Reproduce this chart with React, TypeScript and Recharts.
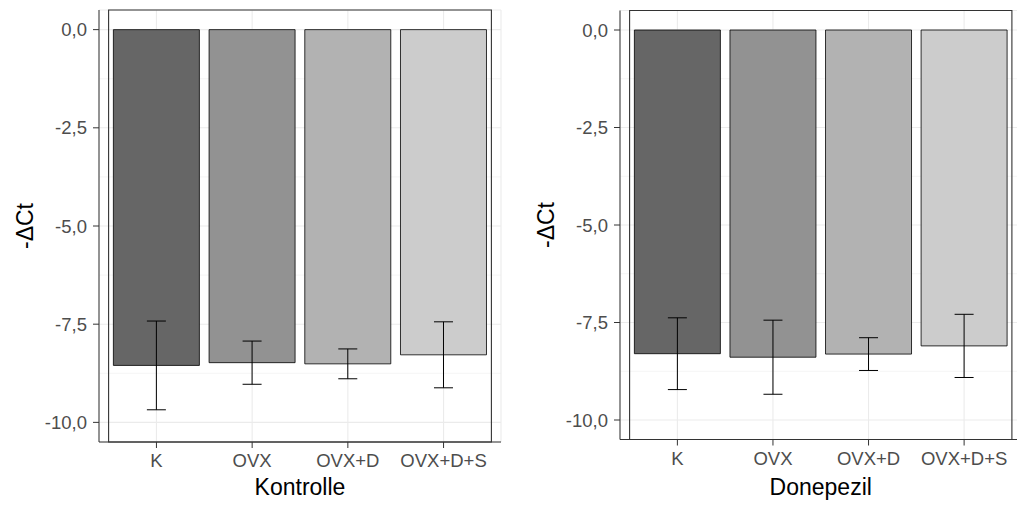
import React from 'react';
import { BarChart, Bar, XAxis, YAxis, CartesianGrid, ErrorBar, Cell, ReferenceArea } from 'recharts';

const categories = ['K', 'OVX', 'OVX+D', 'OVX+D+S'];
const kontrolleMeans = [-8.55, -8.48, -8.51, -8.28];
const kontrolleErrors = [1.13, 0.55, 0.38, 0.84];
const donepezilMeans = [-8.3, -8.39, -8.31, -8.1];
const donepezilErrors = [0.92, 0.95, 0.42, 0.81];
const yTicks = [-10, -7.5, -5, -2.5, 0];
const yMinorTicks = [-8.75, -6.25, -3.75, -1.25];
const yDomain = [-10.5, 0.5];
const fills = ['#666666', '#929292', '#B2B2B2', '#CCCCCC'];

const FONT = '"Liberation Sans", Arial, Helvetica, sans-serif';
const fmt = (v: number) => v.toFixed(1).replace('.', ',');

const minorGenerator = (gp: any) => {
  const s = gp?.yAxis?.scale;
  if (typeof s === 'function') return yMinorTicks.map((v) => s(v));
  if (s && typeof s.map === 'function') return yMinorTicks.map((v) => s.map(v));
  const o = gp?.offset;
  if (!o || typeof o.top !== 'number') return [];
  return yMinorTicks.map((v) => o.top + ((yDomain[1] - v) / (yDomain[1] - yDomain[0])) * o.height);
};

type PanelProps = {
  title: string;
  means: number[];
  errors: number[];
  width: number;
  height: number;
  margin: { top: number; right: number; bottom: number; left: number };
  yAxisWidth: number;
  xAxisHeight: number;
  yTitleX: number;
  xTitleDy: number;
};

function Panel(p: PanelProps) {
  const data = categories.map((c, i) => ({ cat: c, value: p.means[i], err: p.errors[i] }));
  return (
    <BarChart
      width={p.width}
      height={p.height}
      data={data}
      margin={p.margin}
      barCategoryGap="5%"
      style={{ fontFamily: FONT }}
    >
      <CartesianGrid
        stroke="#F2F2F2"
        strokeWidth={0.8}
        vertical={false}
        horizontalCoordinatesGenerator={minorGenerator}
      />
      <CartesianGrid stroke="#EBEBEB" strokeWidth={1.1} />
      <XAxis
        dataKey="cat"
        height={p.xAxisHeight}
        padding={{ left: 9.6, right: 9.6 }}
        stroke="#333333"
        tickSize={6}
        tickMargin={6}
        tick={{ fill: '#4D4D4D', fontSize: 18.5 }}
        tickLine={{ stroke: '#333333' }}
        interval={0}
        label={(lp: any) => {
          const vb = lp.viewBox;
          return (
            <text x={vb.x + vb.width / 2} y={vb.y + p.xTitleDy} textAnchor="middle" fontSize={23} fill="#000" fontFamily={FONT}>
              {p.title}
            </text>
          );
        }}
      />
      <YAxis
        width={p.yAxisWidth}
        domain={yDomain}
        ticks={yTicks}
        allowDataOverflow
        stroke="#333333"
        tickSize={6}
        tickMargin={6}
        tick={{ fill: '#4D4D4D', fontSize: 18.5 }}
        tickFormatter={fmt}
        label={(lp: any) => {
          const vb = lp.viewBox;
          const cx = vb.x + p.yTitleX;
          const cy = vb.y + vb.height / 2;
          return (
            <text x={cx} y={cy} transform={`rotate(-90, ${cx}, ${cy})`} textAnchor="middle" fontSize={23} fill="#000" fontFamily={FONT}>
              -ΔCt
            </text>
          );
        }}
      />
      <Bar dataKey="value" stroke="#000" strokeWidth={0.8} isAnimationActive={false}>
        {data.map((d, i) => (
          <Cell key={d.cat} fill={fills[i]} />
        ))}
        <ErrorBar dataKey="err" width={9.5} stroke="#000" strokeWidth={1} direction="y" />
      </Bar>
      <ReferenceArea y1={yDomain[0]} y2={yDomain[1]} fill="none" fillOpacity={0} stroke="#333333" strokeWidth={1.1} ifOverflow="visible" />
    </BarChart>
  );
}

export default function App() {
  return (
    <div style={{ position: 'absolute', left: 0, top: 0, width: 1017, height: 505, overflow: 'hidden', background: '#fff' }}>
      <div style={{ position: 'absolute', left: 0, top: 0 }}>
        <Panel
          title="Kontrolle"
          means={kontrolleMeans}
          errors={kontrolleErrors}
          width={510}
          height={505}
          margin={{ top: 10, right: 9, bottom: 0, left: 0 }}
          yAxisWidth={99}
          xAxisHeight={63}
          yTitleX={32.5}
          xTitleDy={53}
        />
      </div>
      <div style={{ position: 'absolute', left: 510, top: 0 }}>
        <Panel
          title="Donepezil"
          means={donepezilMeans}
          errors={donepezilErrors}
          width={520}
          height={505}
          margin={{ top: 10.5, right: 8.5, bottom: 0, left: 0 }}
          yAxisWidth={110}
          xAxisHeight={65.5}
          yTitleX={44}
          xTitleDy={55.5}
        />
      </div>
    </div>
  );
}
